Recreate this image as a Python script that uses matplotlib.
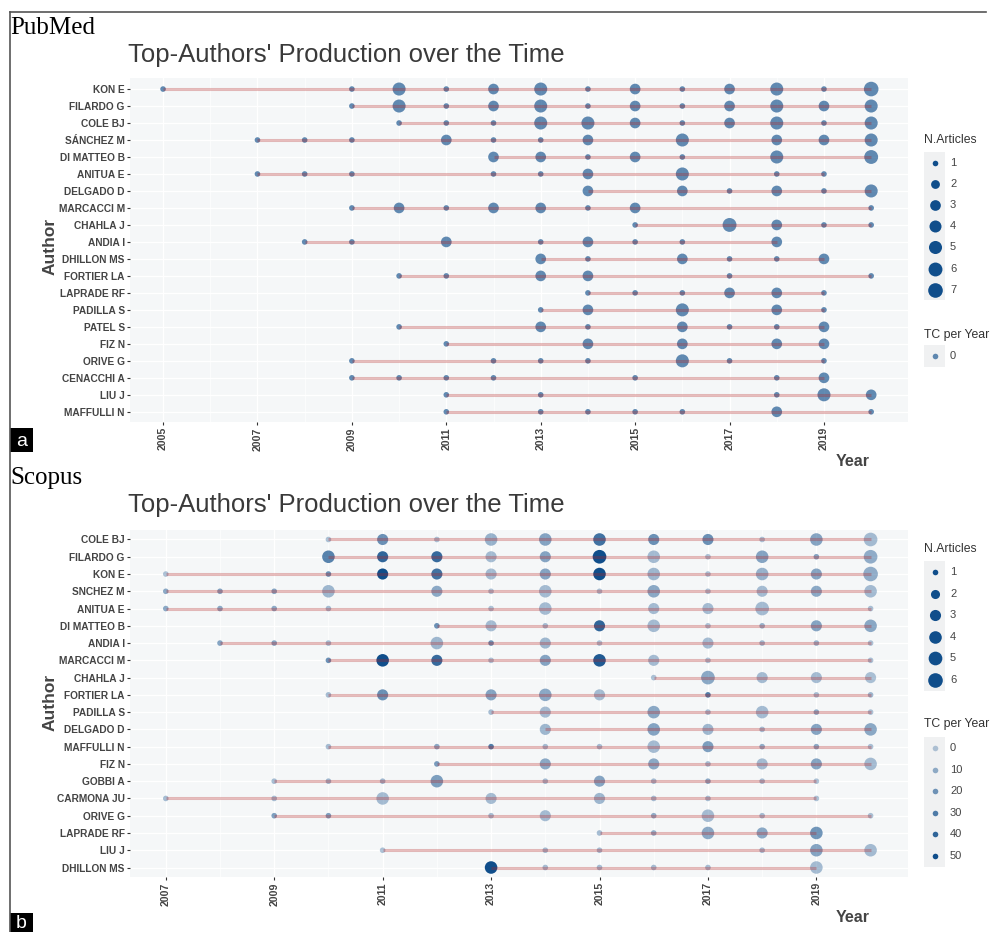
import numpy as np
import matplotlib
matplotlib.use("Agg")
import matplotlib.pyplot as plt
from matplotlib.patches import Rectangle

plt.rcParams['font.family'] = ['Liberation Sans', 'DejaVu Sans']

# ---------------- PubMed (panel a) ----------------
pubmed_authors = ["KON E", "FILARDO G", "COLE BJ", "SÁNCHEZ M", "DI MATTEO B",
                  "ANITUA E", "DELGADO D", "MARCACCI M", "CHAHLA J", "ANDIA I",
                  "DHILLON MS", "FORTIER LA", "LAPRADE RF", "PADILLA S", "PATEL S",
                  "FIZ N", "ORIVE G", "CENACCHI A", "LIU J", "MAFFULLI N"]
pubmed_years = {
    "KON E": [2005, 2009, 2010, 2011, 2012, 2013, 2014, 2015, 2016, 2017, 2018, 2019, 2020],
    "FILARDO G": [2009, 2010, 2011, 2012, 2013, 2014, 2015, 2016, 2017, 2018, 2019, 2020],
    "COLE BJ": [2010, 2011, 2012, 2013, 2014, 2015, 2016, 2017, 2018, 2019, 2020],
    "SÁNCHEZ M": [2007, 2008, 2009, 2011, 2012, 2013, 2014, 2016, 2018, 2019, 2020],
    "DI MATTEO B": [2012, 2013, 2014, 2015, 2016, 2018, 2020],
    "ANITUA E": [2007, 2008, 2009, 2012, 2013, 2014, 2016, 2018, 2019],
    "DELGADO D": [2014, 2016, 2017, 2018, 2019, 2020],
    "MARCACCI M": [2009, 2010, 2011, 2012, 2013, 2014, 2015, 2020],
    "CHAHLA J": [2015, 2017, 2018, 2019, 2020],
    "ANDIA I": [2008, 2009, 2011, 2013, 2014, 2015, 2016, 2018],
    "DHILLON MS": [2013, 2014, 2016, 2017, 2018, 2019],
    "FORTIER LA": [2010, 2011, 2013, 2014, 2017, 2020],
    "LAPRADE RF": [2014, 2015, 2016, 2017, 2018, 2019],
    "PADILLA S": [2013, 2014, 2016, 2018, 2019],
    "PATEL S": [2010, 2013, 2014, 2016, 2017, 2018, 2019],
    "FIZ N": [2011, 2014, 2016, 2018, 2019],
    "ORIVE G": [2009, 2012, 2013, 2014, 2016, 2017, 2019],
    "CENACCHI A": [2009, 2010, 2011, 2012, 2015, 2018, 2019],
    "LIU J": [2011, 2013, 2018, 2019, 2020],
    "MAFFULLI N": [2011, 2013, 2014, 2015, 2016, 2018, 2020],
}
pubmed_articles = {
    "KON E": [1, 1, 5, 1, 3, 5, 1, 3, 1, 3, 5, 1, 7],
    "FILARDO G": [1, 5, 1, 3, 5, 1, 3, 1, 3, 5, 3, 5],
    "COLE BJ": [1, 1, 1, 5, 5, 3, 1, 3, 5, 1, 5],
    "SÁNCHEZ M": [1, 1, 1, 3, 1, 1, 3, 5, 3, 3, 5],
    "DI MATTEO B": [3, 3, 1, 3, 1, 5, 6],
    "ANITUA E": [1, 1, 1, 1, 1, 3, 5, 1, 1],
    "DELGADO D": [3, 3, 1, 3, 1, 5],
    "MARCACCI M": [1, 3, 1, 3, 3, 1, 3, 1],
    "CHAHLA J": [1, 6, 3, 1, 1],
    "ANDIA I": [1, 1, 3, 1, 3, 1, 1, 3],
    "DHILLON MS": [3, 1, 3, 1, 1, 3],
    "FORTIER LA": [1, 1, 3, 3, 1, 1],
    "LAPRADE RF": [1, 1, 1, 3, 3, 1],
    "PADILLA S": [1, 3, 5, 3, 1],
    "PATEL S": [1, 3, 1, 3, 1, 1, 3],
    "FIZ N": [1, 3, 3, 3, 3],
    "ORIVE G": [1, 1, 1, 1, 5, 1, 1],
    "CENACCHI A": [1, 1, 1, 1, 1, 1, 3],
    "LIU J": [1, 1, 1, 5, 3],
    "MAFFULLI N": [1, 1, 1, 1, 1, 3, 1],
}
pubmed_ticks = [2005, 2007, 2009, 2011, 2013, 2015, 2017, 2019]
pubmed_size_legend = [1, 2, 3, 4, 5, 6, 7]
pubmed_tc_legend = [0]

# ---------------- Scopus (panel b) ----------------
scopus_authors = ["COLE BJ", "FILARDO G", "KON E", "SNCHEZ M", "ANITUA E",
                  "DI MATTEO B", "ANDIA I", "MARCACCI M", "CHAHLA J", "FORTIER LA",
                  "PADILLA S", "DELGADO D", "MAFFULLI N", "FIZ N", "GOBBI A",
                  "CARMONA JU", "ORIVE G", "LAPRADE RF", "LIU J", "DHILLON MS"]
scopus_years = {
    "COLE BJ": [2010, 2011, 2012, 2013, 2014, 2015, 2016, 2017, 2018, 2019, 2020],
    "FILARDO G": [2010, 2011, 2012, 2013, 2014, 2015, 2016, 2017, 2018, 2019, 2020],
    "KON E": [2007, 2010, 2011, 2012, 2013, 2014, 2015, 2016, 2017, 2018, 2019, 2020],
    "SNCHEZ M": [2007, 2008, 2009, 2010, 2012, 2013, 2014, 2015, 2016, 2017, 2018, 2019, 2020],
    "ANITUA E": [2007, 2008, 2009, 2010, 2013, 2014, 2016, 2017, 2018, 2020],
    "DI MATTEO B": [2012, 2013, 2014, 2015, 2016, 2017, 2018, 2019, 2020],
    "ANDIA I": [2008, 2009, 2010, 2012, 2013, 2014, 2015, 2017, 2018, 2019, 2020],
    "MARCACCI M": [2010, 2011, 2012, 2013, 2014, 2015, 2016, 2017, 2020],
    "CHAHLA J": [2016, 2017, 2018, 2019, 2020],
    "FORTIER LA": [2010, 2011, 2013, 2014, 2015, 2017, 2019, 2020],
    "PADILLA S": [2013, 2014, 2016, 2017, 2018, 2019, 2020],
    "DELGADO D": [2014, 2016, 2017, 2018, 2019, 2020],
    "MAFFULLI N": [2010, 2012, 2013, 2014, 2015, 2016, 2017, 2018, 2019, 2020],
    "FIZ N": [2012, 2014, 2016, 2017, 2018, 2019, 2020],
    "GOBBI A": [2009, 2010, 2011, 2012, 2014, 2015, 2016, 2017, 2018, 2019],
    "CARMONA JU": [2007, 2009, 2011, 2013, 2015, 2016, 2017, 2019],
    "ORIVE G": [2009, 2010, 2013, 2014, 2016, 2017, 2018, 2020],
    "LAPRADE RF": [2015, 2016, 2017, 2018, 2019],
    "LIU J": [2011, 2014, 2015, 2018, 2019, 2020],
    "DHILLON MS": [2013, 2014, 2015, 2016, 2017, 2019],
}
scopus_articles = {
    "COLE BJ": [1, 3, 1, 4, 4, 4, 3, 3, 1, 4, 5],
    "FILARDO G": [4, 3, 3, 3, 3, 5, 4, 1, 4, 1, 5],
    "KON E": [1, 1, 3, 3, 3, 3, 4, 4, 1, 4, 3, 6],
    "SNCHEZ M": [1, 1, 1, 4, 3, 1, 4, 1, 4, 1, 3, 3, 4],
    "ANITUA E": [1, 1, 1, 1, 1, 4, 3, 3, 5, 1],
    "DI MATTEO B": [1, 3, 1, 3, 4, 1, 1, 3, 4],
    "ANDIA I": [1, 1, 1, 4, 1, 3, 1, 3, 1, 1, 1],
    "MARCACCI M": [1, 4, 3, 1, 3, 4, 3, 1, 1],
    "CHAHLA J": [1, 5, 3, 3, 3],
    "FORTIER LA": [1, 3, 3, 4, 3, 1, 1, 1],
    "PADILLA S": [1, 3, 4, 1, 4, 1, 1],
    "DELGADO D": [3, 4, 3, 1, 3, 4],
    "MAFFULLI N": [1, 1, 1, 1, 1, 4, 3, 1, 1, 1],
    "FIZ N": [1, 3, 3, 1, 3, 3, 4],
    "GOBBI A": [1, 1, 1, 4, 1, 3, 1, 1, 1, 1],
    "CARMONA JU": [1, 1, 4, 3, 3, 1, 1, 1],
    "ORIVE G": [1, 1, 1, 3, 1, 4, 1, 1],
    "LAPRADE RF": [1, 1, 4, 3, 4],
    "LIU J": [1, 1, 1, 1, 4, 4],
    "DHILLON MS": [4, 1, 1, 1, 1, 4],
}
scopus_tc = {
    "COLE BJ": [2, 22, 2, 8, 14, 35, 22, 22, 2, 14, 4],
    "FILARDO G": [28, 40, 38, 4, 14, 50, 4, 2, 14, 14, 10],
    "KON E": [2, 22, 50, 35, 4, 14, 50, 6, 2, 8, 14, 10],
    "SNCHEZ M": [12, 14, 14, 6, 12, 2, 4, 2, 12, 2, 4, 12, 4],
    "ANITUA E": [12, 12, 12, 4, 2, 4, 4, 4, 4, 2],
    "DI MATTEO B": [22, 4, 4, 40, 4, 2, 8, 14, 12],
    "ANDIA I": [14, 14, 4, 6, 22, 6, 2, 4, 6, 8, 2],
    "MARCACCI M": [22, 50, 38, 2, 14, 45, 4, 2, 2],
    "CHAHLA J": [2, 12, 4, 4, 2],
    "FORTIER LA": [4, 22, 14, 12, 4, 30, 4, 6],
    "PADILLA S": [4, 4, 12, 4, 4, 12, 2],
    "DELGADO D": [6, 14, 6, 4, 14, 12],
    "MAFFULLI N": [4, 12, 30, 4, 4, 4, 16, 10, 12, 2],
    "FIZ N": [18, 12, 12, 4, 4, 14, 4],
    "GOBBI A": [4, 6, 6, 16, 4, 14, 4, 12, 4, 2],
    "CARMONA JU": [4, 4, 4, 4, 6, 4, 4, 2],
    "ORIVE G": [16, 16, 4, 4, 10, 4, 4, 2],
    "LAPRADE RF": [4, 10, 12, 12, 20],
    "LIU J": [2, 4, 4, 4, 14, 4],
    "DHILLON MS": [50, 4, 4, 4, 4, 4],
}
scopus_ticks = [2007, 2009, 2011, 2013, 2015, 2017, 2019]
scopus_size_legend = [1, 2, 3, 4, 5, 6]
scopus_tc_legend = [0, 10, 20, 30, 40, 50]

POINT = "#104E8B"
LINE = "#B22222"
BG = "#F5F7F8"
TXT = "#444444"
W, H = 990, 932


def size_of(n, nmax):
    d = 5.6 + 9 * np.log(n) / np.log(nmax)   # marker diameter in px
    return (d * 0.72) ** 2


def alpha_of(tc):
    return 0.3 + 0.7 * tc / 50.0


def px_box(left, top, right, bottom):
    return [left / W, 1 - bottom / H, (right - left) / W, (bottom - top) / H]


def draw_panel(ax, authors, years, articles, alphas, nmax, ticks, xlim, ylim):
    ax.set_facecolor(BG)
    for s in ax.spines.values():
        s.set_visible(False)
    rgb = matplotlib.colors.to_rgb(POINT)
    for i, a in enumerate(authors):
        yr = np.array(years[a])
        ax.scatter(yr, np.full(len(yr), i), s=[size_of(n, nmax) for n in articles[a]],
                   linewidths=0, zorder=3,
                   facecolors=[(*rgb, al) for al in alphas[a]])
        ax.plot([yr.min(), yr.max()], [i, i], color=LINE, alpha=0.3, lw=2.2,
                solid_capstyle='butt', zorder=4)
    ax.set_xlim(*xlim)
    ax.set_ylim(*ylim)
    ax.set_yticks(range(len(authors)))
    ax.set_yticklabels(authors)
    ax.set_xticks(ticks)
    ax.set_xticklabels([str(t) for t in ticks], rotation=90)
    ax.set_xticks([t + 1 for t in ticks[:-1]], minor=True)
    ax.grid(True, which='major', color='white', lw=0.9, zorder=0)
    ax.grid(True, which='minor', axis='x', color='white', lw=0.5, zorder=0)
    ax.set_axisbelow(True)
    ax.tick_params(axis='both', which='major', length=2.2, width=0.8, color='#333333',
                   labelsize=7.3, labelcolor=TXT, pad=1.5)
    ax.tick_params(axis='x', which='minor', length=0)
    for lab in ax.get_xticklabels() + ax.get_yticklabels():
        lab.set_fontweight('bold')
    ax.tick_params(axis='x', labelsize=7.6)


fig = plt.figure(figsize=(W / 100, H / 100), dpi=100)

ax1 = fig.add_axes(px_box(130, 78, 908, 422))
draw_panel(ax1, pubmed_authors, pubmed_years, pubmed_articles,
           {a: [0.65] * len(pubmed_years[a]) for a in pubmed_authors}, 7,
           pubmed_ticks, (2004.3, 2020.78), (19.6, -0.65))

ax2 = fig.add_axes(px_box(130, 530, 908, 877))
draw_panel(ax2, scopus_authors, scopus_years, scopus_articles,
           {a: [alpha_of(t) for t in scopus_tc[a]] for a in scopus_authors}, 6,
           scopus_ticks, (2006.34, 2020.69), (19.55, -0.55))

# overlay in pixel coordinates for frame, labels and legends
ov = fig.add_axes([0, 0, 1, 1])
ov.set_xlim(0, W)
ov.set_ylim(H, 0)
ov.axis('off')

ov.plot([10, 10], [12, H], color='#555555', lw=1.2)
ov.plot([10, 986], [12, 12], color='#555555', lw=1.2)

for y0, name, title_y, ax_mid, year_y in [(28, "PubMed", 55, 246, 462),
                                          (478, "Scopus", 505, 702, 918)]:
    ov.text(10, y0, name, family=['Liberation Serif', 'DejaVu Serif'], fontsize=18,
            va='center', ha='left', color='black')
    ov.text(128, title_y, "Top-Authors' Production over the Time", fontsize=18.5,
            va='center', ha='left', color='#3A3A3A')
    ov.text(50, ax_mid, "Author", rotation=90, fontsize=12.5, fontweight='bold',
            va='center', ha='center', color=TXT)
    ov.text(870, year_y, "Year", fontsize=11.5, fontweight='bold', va='center',
            ha='right', color=TXT)

for lab, top, bot in [("a", 428, 452), ("b", 913, 932)]:
    ov.add_patch(Rectangle((10, top), 23, bot - top, color='black', lw=0))
    ov.text(21.5, (top + bot) / 2 + 1, lab, color='white', fontsize=14,
            ha='center', va='center')


def legend(title, y_title, values, y0, step, sizes, alphas):
    ov.text(924, y_title, title, fontsize=8.8, color='#333333', va='center', ha='left')
    ov.add_patch(Rectangle((924, y0 - step / 2), 21, step * len(values),
                           color='#F0F1F2', lw=0))
    rgb = matplotlib.colors.to_rgb(POINT)
    for k, v in enumerate(values):
        y = y0 + k * step
        ov.scatter([934.5], [y], s=sizes[k], linewidths=0,
                   facecolors=[(*rgb, alphas[k])])
        ov.text(950, y, str(v), fontsize=8, color=TXT, va='center', ha='left')


legend("N.Articles", 140, pubmed_size_legend, 163, 21.1,
       [size_of(n, 7) for n in pubmed_size_legend], [1] * 7)
legend("TC per Year", 335, pubmed_tc_legend, 356, 21.1,
       [size_of(1, 7)], [0.65])
legend("N.Articles", 549, scopus_size_legend, 572, 21.6,
       [size_of(n, 6) for n in scopus_size_legend], [1] * 6)
legend("TC per Year", 724, scopus_tc_legend, 748, 21.6,
       [size_of(1, 6)] * 6, [alpha_of(t) for t in scopus_tc_legend])

fig.savefig("out.png", dpi=100)
